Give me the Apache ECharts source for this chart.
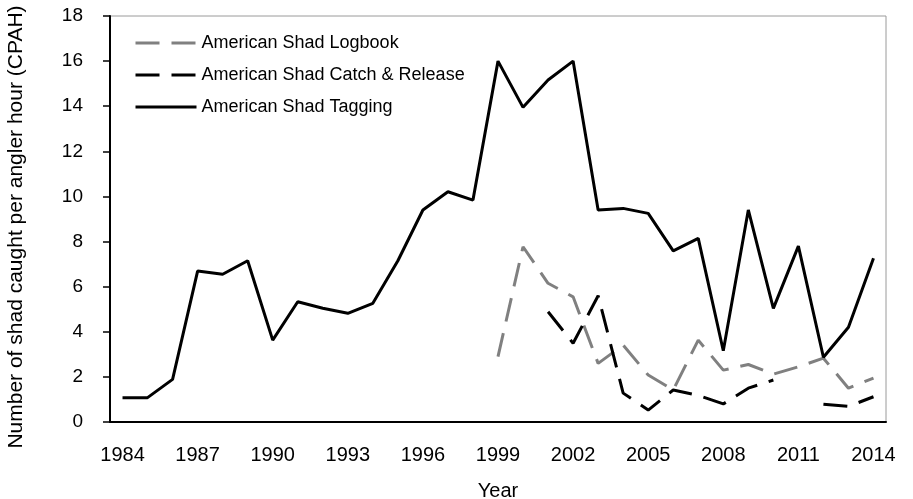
<!DOCTYPE html>
<html lang="en">
  <head>
    <meta charset="utf-8">
    <title>American Shad CPAH</title>
    <script src="https://cdn.jsdelivr.net/npm/echarts@6/dist/echarts.min.js"></script>
    <style>
      html, body { margin: 0; padding: 0; background: #fff; }
    </style>
  </head>
  <body>
    <div id="shadChart" style="width: 913px;height:499px;"></div>
    <script type="text/javascript">
    // years on the category axis
    var years = ['1984','1985','1986','1987','1988','1989','1990','1991','1992','1993',
                 '1994','1995','1996','1997','1998','1999','2000','2001','2002','2003',
                 '2004','2005','2006','2007','2008','2009','2010','2011','2012','2013','2014'];

    var logbookData = [null,null,null,null,null,null,null,null,null,null,
                       null,null,null,null,null,2.9,7.77,6.15,5.55,2.6,
                       3.41,2.08,1.42,3.63,2.3,2.55,2.12,2.45,2.83,1.5,1.95];

    var catchReleaseData = [null,null,null,null,null,null,null,null,null,null,
                            null,null,null,null,null,null,null,4.89,3.49,5.6,
                            1.28,0.53,1.42,1.18,0.8,1.5,1.86,null,0.79,0.69,1.12];

    var taggingData = [1.08,1.08,1.89,6.69,6.55,7.15,3.63,5.33,5.04,4.82,
                       5.26,7.15,9.4,10.21,9.84,16.0,13.95,15.16,16.0,9.4,
                       9.47,9.25,7.59,8.14,3.16,9.4,5.04,7.8,2.87,4.2,7.26];

    var seriesNames = ['American Shad Logbook', 'American Shad Catch & Release', 'American Shad Tagging'];

    var font = '"Liberation Sans", Arial, sans-serif';
    var shadChart = echarts.init(document.getElementById('shadChart'));

    var option = {
        animation: false,
        backgroundColor: '#fff',
        grid: {
            left: 110,
            right: 27,
            top: 16,
            bottom: 77,
            containLabel: false,
            outerBoundsMode: 'none',
            show: true,
            borderColor: '#9a9a9a',
            borderWidth: 1
        },
        legend: {
            orient: 'vertical',
            left: 134,
            top: 34,
            padding: 0,
            itemWidth: 61,
            itemHeight: 18,
            itemGap: 14,
            itemStyle: { opacity: 0 },
            lineStyle: { width: 3 },
            textStyle: { fontFamily: font, fontSize: 18, color: '#000' },
            data: seriesNames
        },
        xAxis: {
            type: 'category',
            data: years,
            boundaryGap: true,
            name: 'Year',
            nameLocation: 'middle',
            nameGap: 59,
            nameTextStyle: { fontFamily: font, fontSize: 20, color: '#000' },
            axisLine: { lineStyle: { color: '#000', width: 2 } },
            axisTick: { interval: 0, length: 7, lineStyle: { color: '#000', width: 1.5 } },
            axisLabel: { interval: 2, margin: 23, fontFamily: font, fontSize: 20, color: '#000' },
            splitLine: { show: false }
        },
        yAxis: {
            type: 'value',
            min: 0,
            max: 18,
            interval: 2,
            name: 'Number of shad caught per angler hour (CPAH)',
            nameLocation: 'middle',
            nameGap: 83,
            nameTextStyle: { fontFamily: font, fontSize: 21, color: '#000', padding: [0, 16, 0, 0] },
            axisLine: { show: true, lineStyle: { color: '#000', width: 2 } },
            axisTick: { show: true, length: 7, lineStyle: { color: '#000', width: 1.5 } },
            axisLabel: { margin: 27, fontFamily: font, fontSize: 19, color: '#000' },
            splitLine: { show: false }
        },
        series: [
            {
                name: seriesNames[0],
                type: 'line',
                data: logbookData,
                symbol: 'none',
                showSymbol: false,
                connectNulls: false,
                color: '#808080',
                lineStyle: { color: '#808080', width: 3, type: [24, 12] },
                z: 2
            },
            {
                name: seriesNames[1],
                type: 'line',
                data: catchReleaseData,
                symbol: 'none',
                showSymbol: false,
                connectNulls: false,
                color: '#000',
                lineStyle: { color: '#000', width: 3, type: [24, 12] },
                z: 3
            },
            {
                name: seriesNames[2],
                type: 'line',
                data: taggingData,
                symbol: 'none',
                showSymbol: false,
                color: '#000',
                lineStyle: { color: '#000', width: 3 },
                z: 4
            }
        ]
    };

    shadChart.setOption(option);
    </script>
  </body>
</html>
